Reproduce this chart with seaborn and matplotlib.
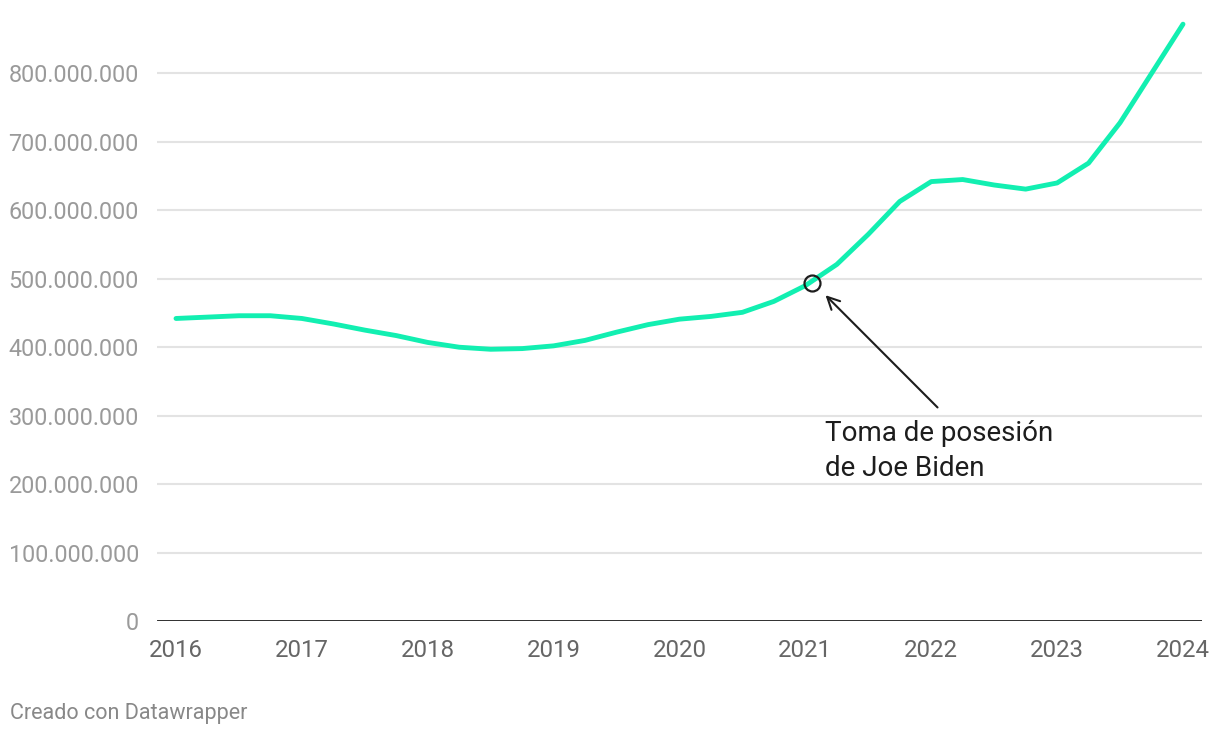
import pandas as pd
import seaborn as sns
import matplotlib.pyplot as plt
from matplotlib.ticker import FuncFormatter

# Values (quarterly), in millions
years = [2016.00, 2016.25, 2016.50, 2016.75, 2017.00, 2017.25, 2017.50, 2017.75,
         2018.00, 2018.25, 2018.50, 2018.75, 2019.00, 2019.25, 2019.50, 2019.75,
         2020.00, 2020.25, 2020.50, 2020.75, 2021.00, 2021.25, 2021.50, 2021.75,
         2022.00, 2022.25, 2022.50, 2022.75, 2023.00, 2023.25, 2023.50, 2023.75,
         2024.00]
values_m = [442, 444, 446, 446, 442, 434, 425, 417,
            407, 400, 397, 398, 402, 410, 422, 433,
            441, 445, 451, 467, 490, 521, 565, 613,
            642, 645, 637, 631, 640, 669, 728, 800,
            872]

x_ticks = [2016, 2017, 2018, 2019, 2020, 2021, 2022, 2023, 2024]
y_ticks = [0, 100e6, 200e6, 300e6, 400e6, 500e6, 600e6, 700e6, 800e6]

event_x = 2021.05
event_y = 494e6
event_label = "Toma de posesión\nde Joe Biden"

df = pd.DataFrame({"year": years, "value": [v * 1e6 for v in values_m]})

sns.set_theme(style="white")
plt.rcParams['font.family'] = ['Roboto', 'DejaVu Sans']

fig = plt.figure(figsize=(12.2, 7.38), dpi=100)
ax = fig.add_axes([157 / 1220, 117 / 738, 1045 / 1220, 616 / 738])

# gridlines
for t in y_ticks[1:]:
    ax.axhline(t, color='#e3e3e3', lw=1.5, zorder=0)
ax.axhline(0, color='#1d1d1d', lw=2, zorder=3)

sns.lineplot(data=df, x="year", y="value", ax=ax, color='#12efb1', lw=3.5,
             zorder=4, solid_capstyle='round', solid_joinstyle='round')

# event marker
ax.plot([event_x], [event_y], marker='o', ms=11.5, mfc='none', mec='#1d1d1d',
        mew=1.6, zorder=5)
ax.annotate("", xy=(2021.16, 476e6), xytext=(2022.05, 312e6),
            arrowprops=dict(arrowstyle='->', color='#1d1d1d', lw=1.5,
                            mutation_scale=22, shrinkA=0, shrinkB=0), zorder=5)
ax.text(2021.155, 293e6, event_label, fontsize=20, color='#1d1d1d',
        va='top', ha='left', linespacing=1.35)

ax.set_xlim(2015.849, 2024.151)
ax.set_ylim(0, 900e6)
ax.set_xticks(x_ticks)
ax.set_yticks(y_ticks)
ax.yaxis.set_major_formatter(FuncFormatter(lambda v, p: f"{int(v):,}".replace(",", ".")))
ax.tick_params(axis='y', length=0, pad=13, labelsize=16.8, labelcolor='#9a9a9a')
ax.tick_params(axis='x', length=0, pad=13, labelsize=17.3, labelcolor='#666666')
ax.set_xlabel("")
ax.set_ylabel("")
sns.despine(ax=ax, left=True, bottom=True)

fig.text(10 / 1220, 1 - 714 / 738, "Creado con Datawrapper", fontsize=15.5,
         color='#888888', va='center', ha='left')

fig.savefig("out.png", dpi=100)
